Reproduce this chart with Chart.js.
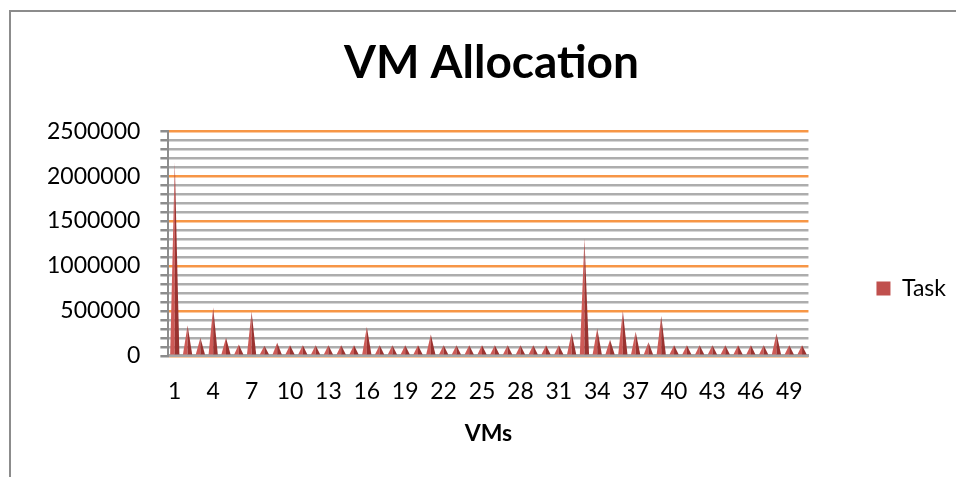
<!DOCTYPE html>
<html>
<head>
<meta charset="utf-8">
<title>VM Allocation</title>
<script src="https://cdn.jsdelivr.net/npm/chart.js@4.4.1/dist/chart.umd.min.js"></script>
<style>
  body { margin: 0; background: #fff; }
  #wrap { position: relative; width: 956px; height: 477px; }
  #frame { position: absolute; left: 9px; top: 10px; right: 0; bottom: 0;
           border-left: 2px solid #8c8c8c; border-top: 2px solid #8c8c8c; }
  #chart { position: absolute; left: 0; top: 0; }
</style>
</head>
<body>
<div id="wrap">
  <div id="frame"></div>
  <canvas id="chart" width="956" height="477"></canvas>
</div>
<script>
// VM numbers on the x axis
const vms = [
  '1', '2', '3', '4', '5', '6', '7', '8', '9', '10',
  '11', '12', '13', '14', '15', '16', '17', '18', '19', '20',
  '21', '22', '23', '24', '25', '26', '27', '28', '29', '30',
  '31', '32', '33', '34', '35', '36', '37', '38', '39', '40',
  '41', '42', '43', '44', '45', '46', '47', '48', '49', '50',
]

// Task allocated per VM
const task = [
  2150000, 338000, 200000, 538000, 200000, 125000, 489000, 113000, 144000, 118000,
  118000, 118000, 118000, 118000, 118000, 320000, 118000, 118000, 118000, 118000,
  237000, 118000, 118000, 118000, 118000, 118000, 118000, 118000, 118000, 118000,
  118000, 256000, 1308000, 304000, 180000, 500000, 267000, 151000, 444000, 118000,
  118000, 118000, 118000, 118000, 118000, 118000, 118000, 248000, 118000, 118000,
]

const yMax = 2500000
const yStep = 100000
const yLabelStep = 500000

const FONT = 'Lato, Calibri, "Open Sans", sans-serif'

// draw every bar as a little pyramid, like the excel 3d chart
const cones = {
  id: 'cones',
  beforeDatasetDraw() {
    return false // skip the flat bars
  },
  afterDatasetsDraw(chart) {
    const ctx = chart.ctx
    ctx.save()
    chart.getDatasetMeta(0).data.forEach((bar) => {
      const { x, y, base, width } = bar.getProps(['x', 'y', 'base', 'width'], true)
      const half = width / 2
      ctx.fillStyle = '#cd5a56'
      ctx.beginPath()
      ctx.moveTo(x - half, base)
      ctx.lineTo(x, y)
      ctx.lineTo(x, base)
      ctx.closePath()
      ctx.fill()
      ctx.fillStyle = '#9a3330'
      ctx.beginPath()
      ctx.moveTo(x, base)
      ctx.lineTo(x, y)
      ctx.lineTo(x + half, base)
      ctx.closePath()
      ctx.fill()
    })
    ctx.restore()
  },
}

new Chart(document.getElementById('chart'), {
  type: 'bar',
  data: {
    labels: vms,
    datasets: [
      {
        label: 'Task',
        data: task,
        backgroundColor: '#c0504d',
        barPercentage: 0.8,
        categoryPercentage: 0.9,
      },
    ],
  },
  options: {
    responsive: false,
    animation: false,
    devicePixelRatio: 1,
    layout: {
      padding: { top: 12, left: 27, right: 0, bottom: 30 },
    },
    scales: {
      x: {
        offset: true,
        grid: { display: false, drawTicks: false },
        border: { display: true, color: '#a6a6a6', width: 3 },
        ticks: {
          autoSkip: false,
          maxRotation: 0,
          padding: 22,
          color: '#000',
          font: { family: FONT, size: 23 },
          callback: (val, i) => (i % 3 === 0 ? vms[i] : null),
        },
        title: {
          display: true,
          text: 'VMs',
          color: '#000',
          font: { family: FONT, size: 23, weight: 'bold' },
          padding: { top: -8, bottom: 0 },
        },
      },
      y: {
        min: 0,
        max: yMax,
        grid: {
          lineWidth: 2.5,
          tickLength: 8,
          tickColor: '#8c8c8c',
          color: (c) => (c.tick.value % yLabelStep === 0 ? '#f79646' : '#adadad'),
        },
        border: { display: true, color: '#8c8c8c', width: 2 },
        ticks: {
          stepSize: yStep,
          autoSkip: false,
          padding: 20,
          color: '#000',
          font: { family: FONT, size: 23 },
          callback: (v) => (v % yLabelStep === 0 ? String(v) : ''),
        },
      },
    },
    plugins: {
      title: {
        display: true,
        text: 'VM Allocation',
        color: '#000',
        font: { family: FONT, size: 46, weight: 'bold' },
        padding: { top: 24, bottom: 40 },
      },
      legend: {
        position: 'right',
        maxWidth: 151,
        title: { display: true, text: '', font: { size: 10 }, padding: { top: 106, bottom: 0 } },
        labels: {
          boxWidth: 14,
          boxHeight: 14,
          padding: 68,
          color: '#000',
          font: { family: FONT, size: 23 },
        },
      },
      tooltip: { enabled: false },
    },
  },
  plugins: [cones],
})
</script>
</body>
</html>
